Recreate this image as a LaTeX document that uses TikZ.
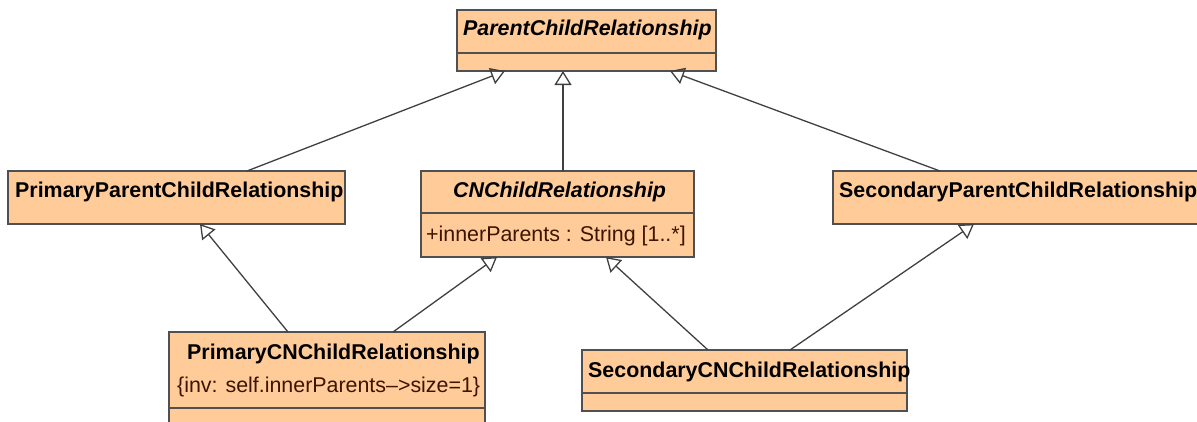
\documentclass[tikz,border=0pt]{standalone}
\usepackage{fontspec}
\setmainfont{Liberation Sans}
\usetikzlibrary{arrows.meta}
\definecolor{boxfill}{RGB}{255,204,153}
\definecolor{boxline}{RGB}{80,80,80}
\definecolor{conn}{RGB}{64,64,64}
\definecolor{attr}{RGB}{60,20,0}
\begin{document}
\begin{tikzpicture}[x=1pt,y=-1pt,
  umlbox/.style={draw=boxline, fill=boxfill, line width=1.5pt, inner sep=0pt, outer sep=0pt, anchor=north west},
  divider/.style={draw=boxline, line width=1.5pt},
  title/.style={anchor=base west, inner sep=0pt, font=\fontsize{21.4}{25}\selectfont\bfseries},
  atitle/.style={title, font=\fontsize{21.4}{25}\selectfont\bfseries\itshape},
  attrtext/.style={anchor=base west, inner sep=0pt, text=attr, font=\fontsize{21.4}{25}\selectfont},
  inh/.style={draw=conn, line width=1.3pt, -{Triangle[open, length=14pt, width=17pt]}}]
\useasboundingbox (0,0) rectangle (1197,421);
% boxes
\node[umlbox, minimum width=259pt, minimum height=61pt] (pcr) at (457,10) {};
\node[umlbox, minimum width=337pt, minimum height=53pt] (ppcr) at (8,171) {};
\node[umlbox, minimum width=273pt, minimum height=86pt] (cn) at (421,171) {};
\node[umlbox, minimum width=370pt, minimum height=53pt] (spcr) at (833,171) {};
\node[umlbox, minimum width=316pt, minimum height=100pt] (pcn) at (169,332) {};
\node[umlbox, minimum width=325pt, minimum height=61pt] (scn) at (582,350) {};
% dividers
\draw[divider] ([yshift=-43pt]pcr.north west) -- ([yshift=-43pt]pcr.north east);
\draw[divider] ([yshift=-42pt]cn.north west) -- ([yshift=-42pt]cn.north east);
\draw[divider] ([yshift=-76pt]pcn.north west) -- ([yshift=-76pt]pcn.north east);
\draw[divider] ([yshift=-43pt]scn.north west) -- ([yshift=-43pt]scn.north east);
% texts
\node[atitle] (tpcr) at (463,35) {ParentChildRelationship};
\node[title] (tppcr) at (15,197) {PrimaryParentChildRelationship};
\node[atitle] (tcn) at (453,197) {CNChildRelationship};
\node[attrtext] (acn) at (426,241) {+innerParents : String [1..*]};
\node[title] (tspcr) at (839,197) {SecondaryParentChildRelationship};
\node[title] (tpcn) at (187,359) {PrimaryCNChildRelationship};
\node[attrtext] (cpcn) at (177,392.5) {\{inv: self.innerParents–>size=1\}};
\node[title] (tscn) at (588,377) {SecondaryCNChildRelationship};
% generalizations
\draw[inh] ([xshift=239pt]ppcr.north west) -- ([xshift=48pt]pcr.south west);
\draw[inh] ([xshift=142pt]cn.north west) -- ([xshift=106pt]pcr.south west);
\draw[inh] ([xshift=107pt]spcr.north west) -- ([xshift=213pt]pcr.south west);
\draw[inh] ([xshift=119pt]pcn.north west) -- ([xshift=192pt]ppcr.south west);
\draw[inh] ([xshift=224pt]pcn.north west) -- ([xshift=76pt]cn.south west);
\draw[inh] ([xshift=126pt]scn.north west) -- ([xshift=185pt]cn.south west);
\draw[inh] ([xshift=208pt]scn.north west) -- ([xshift=141pt]spcr.south west);
\end{tikzpicture}
\end{document}
